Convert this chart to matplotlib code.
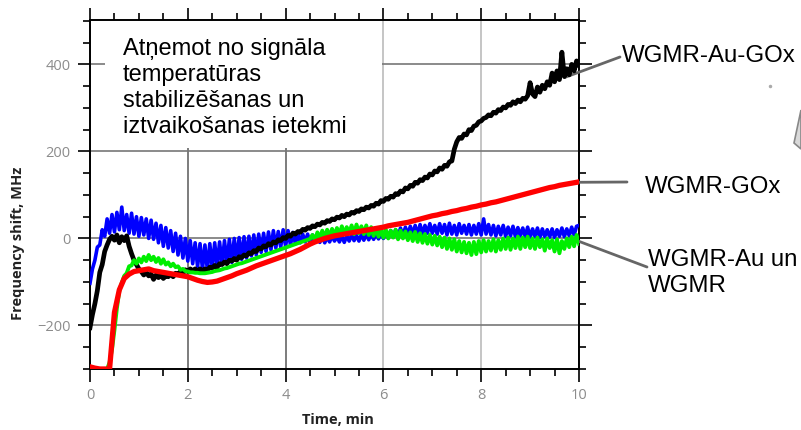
import numpy as np
import matplotlib
matplotlib.use("Agg")
import matplotlib.pyplot as plt
from matplotlib.patches import Rectangle, Polygon
from matplotlib.ticker import MultipleLocator

# ---------------- data ----------------
black_au_gox = [
    -205, -175, -150, -120, -78, -60, -30, -15, -2, 5,
    -4, 8, -10, 4, -5, 6, -18, -35, -50, -60,
    -70, -76, -84, -78, -86, -82, -94, -84, -90, -84,
    -92, -86, -88, -82, -88, -80, -82, -76, -80, -72,
    -76, -70, -74, -70, -76, -70, -74, -70, -74, -66,
    -68, -62, -66, -58, -60, -54, -58, -50, -52, -46,
    -50, -42, -44, -38, -40, -33, -35, -28, -30, -22,
    -24, -17, -19, -12, -15, -8, -10, -3, -5, 2,
    0, 7, 5, 12, 10, 16, 14, 21, 19, 25,
    23, 29, 27, 33, 31, 37, 35, 41, 39, 45,
    43, 49, 47, 53, 50, 56, 54, 60, 58, 64,
    62, 68, 66, 72, 70, 76, 74, 81, 79, 87,
    85, 92, 90, 97, 95, 103, 101, 109, 107, 116,
    114, 122, 120, 129, 127, 135, 133, 141, 139, 148,
    146, 155, 153, 162, 159, 168, 166, 176, 178, 205,
    222, 232, 230, 240, 238, 250, 248, 258, 260, 268,
    270, 276, 278, 284, 282, 290, 288, 296, 294, 302,
    300, 308, 306, 314, 310, 318, 314, 322, 320, 328,
    358, 332, 326, 348, 336, 352, 344, 360, 352, 380,
    360, 385, 365, 428, 372, 390, 376, 400, 385, 408,
    398,
]

blue_wgmr = [
    -103, -70, -50, -20, -15, 20, 5, 45, 12, 55,
    15, 60, 20, 72, 18, 55, 12, 58, 10, 50,
    5, 48, 8, 45, 0, 42, -2, 35, -10, 30,
    -18, 25, -22, 18, -30, 12, -38, 5, -45, 0,
    -52, -5, -58, -10, -65, -12, -70, -15, -72, -12,
    -68, -10, -65, -8, -60, -5, -58, -2, -55, 0,
    -50, 2, -48, 4, -45, 5, -40, 8, -38, 10,
    -32, 12, -30, 15, -26, 18, -22, 16, -20, 20,
    -18, 18, -15, 14, -12, 12, -10, 10, -8, 10,
    -10, 8, -8, 6, -9, 5, -10, 3, -8, 6,
    -6, 4, -8, 5, -9, 6, -6, 8, -5, 7,
    -6, 9, -4, 10, -3, 11, -2, 12, -1, 14,
    0, 15, 2, 18, 4, 20, 5, 24, 6, 26,
    8, 28, 10, 30, 8, 32, 10, 30, 12, 34,
    12, 30, 10, 34, 12, 32, 8, 35, 10, 30,
    8, 34, 12, 30, 10, 32, 8, 30, 10, 34,
    8, 45, 10, 32, 8, 30, 6, 28, 8, 30,
    5, 26, 6, 28, 4, 25, 6, 24, 4, 26,
    3, 22, 4, 24, 2, 22, 4, 20, 3, 22,
    2, 20, 5, 24, 4, 22, 6, 26, 8, 28,
    30,
]

green_au = [
    -300, -285, -255, -210, -160, -120, -102, -86, -80, -64,
    -62, -50, -58, -46, -55, -42, -52, -38, -50, -42,
    -54, -45, -58, -48, -60, -55, -64, -58, -66, -64,
    -72, -70, -75, -76, -78, -78, -79, -79, -80, -80,
    -80, -79, -78, -77, -75, -74, -73, -71, -69, -68,
    -66, -64, -62, -60, -58, -57, -55, -53, -51, -49,
    -47, -45, -43, -41, -39, -37, -35, -33, -31, -29,
    -27, -25, -23, -21, -19, -17, -15, -13, -11, -9,
    -7, -5, -3, -1, 8, -4, 14, 0, 18, 2,
    20, 4, 22, 6, 24, 8, 28, 10, 26, 12,
    30, 10, 32, 12, 28, 10, 30, 8, 26, 6,
    24, 4, 22, 2, 20, 0, 18, 2, 20, -2,
    18, 0, 16, -4, 14, -6, 15, -8, 12, -10,
    10, -12, 8, -14, 6, -16, 4, -20, 2, -24,
    0, -26, -2, -30, -6, -32, -8, -34, -10, -38,
    -8, -36, -6, -32, -4, -30, -6, -28, -2, -30,
    -4, -26, 0, -24, 2, -26, 0, -22, 4, -24,
    2, -20, 4, -22, 0, -24, 2, -20, -2, -28,
    0, -22, -4, -30, -2, -34, -6, -24, 0, -20,
    4, -18, 8, -12,
]

red_gox = [
    -295, -298, -300, -300, -300, -170, -118, -92, -82, -76,
    -74, -72, -70, -74, -76, -78, -80, -82, -84, -86,
    -88, -92, -96, -99, -101, -100, -98, -94, -90, -86,
    -81, -77, -73, -68, -63, -59, -55, -51, -47, -43,
    -39, -35, -30, -25, -19, -13, -8, -4, 0, 3,
    6, 8, 10, 12, 14, 16, 18, 20, 22, 24,
    26, 29, 31, 33, 35, 37, 40, 43, 46, 49,
    52, 54, 57, 59, 62, 64, 67, 69, 72, 74,
    77, 79, 82, 84, 87, 90, 93, 96, 99, 102,
    105, 108, 111, 114, 117, 119, 122, 124, 126, 128,
    130,
]

# sampling times (min) for each recorded series
t_black = [round(i * 0.05, 2) for i in range(len(black_au_gox))]
t_blue = [round(i * 0.05, 2) for i in range(len(blue_wgmr))]
t_green = [round(0.35 + i * 0.05, 2) for i in range(len(green_au))]
t_red = [round(i * 0.1, 1) for i in range(len(red_gox))]

x_ticks = [0, 2, 4, 6, 8, 10]
y_ticks = [-200, 0, 200, 400]
x_grid_colors = ["#666666", "#666666", "#666666", "#bbbbbb", "#bbbbbb", "#666666"]

box_text = "Atņemot no signāla\ntemperatūras\nstabilizēšanas un\niztvaikošanas ietekmi"
label_au_gox = "WGMR-Au-GOx"
label_gox = "WGMR-GOx"
label_au = "WGMR-Au un\nWGMR"

# ---------------- figure ----------------
W, H = 801, 430
fig = plt.figure(figsize=(W / 100, H / 100), dpi=100)
ax = fig.add_axes([90 / W, 1 - 369 / H, (579 - 90) / W, (369 - 20) / H])

ax.set_xlim(0, 10)
ax.set_ylim(-300, 502)

ax.plot(t_blue, blue_wgmr, color="#0000ff", lw=2.6, zorder=3)
ax.plot(t_black, black_au_gox, color="#000000", lw=3.4, zorder=4)
ax.plot(t_green, green_au, color="#00ee00", lw=2.8, zorder=5)
ax.plot(t_red, red_gox, color="#ff0000", lw=3.8, zorder=6)

ax.set_xticks(x_ticks)
ax.set_yticks(y_ticks)
ax.xaxis.set_minor_locator(MultipleLocator(0.5))
ax.yaxis.set_minor_locator(MultipleLocator(50))
ax.tick_params(which="both", direction="out", top=True, right=True,
               labeltop=False, labelright=False, width=1.2, color="black")
ax.tick_params(which="major", length=9, labelsize=10.5, labelcolor="#8c8c8c", pad=5)
ax.tick_params(which="minor", length=5)
for lab in ax.get_xticklabels() + ax.get_yticklabels():
    lab.set_fontfamily("Open Sans")

ax.grid(True, which="major", color="#777777", lw=1.2)
for gl, c in zip(ax.xaxis.get_gridlines(), x_grid_colors):
    gl.set_color(c)
for s in ax.spines.values():
    s.set_linewidth(1.4)

# white text box covering grid
ax.add_patch(Rectangle((0.31, 207), 5.66, 300, facecolor="white", edgecolor="none", zorder=1.8))
fig.text(123 / W, 1 - 38 / H, box_text, family="Liberation Sans", fontsize=17,
         va="top", ha="left", linespacing=1.23, color="black")

# axis labels
fig.text(18 / W, 1 - 243 / H, "Frequency shift, MHz", rotation=90, family="Open Sans",
         fontweight="bold", fontsize=10.5, ha="center", va="center", color="#222222")
fig.text(338 / W, 1 - 420 / H, "Time, min", family="Open Sans", fontweight="bold",
         fontsize=10.5, ha="center", va="center", color="#222222")

# annotations
lp = dict(arrowstyle="-", color="#666666", lw=2, shrinkA=0, shrinkB=0)
ax.annotate("", xy=(9.71, 370), xytext=(620, H - 57), textcoords="figure pixels",
            arrowprops=lp, annotation_clip=False)
ax.annotate("", xy=(9.88, 129), xytext=(627, H - 182), textcoords="figure pixels",
            arrowprops=lp, annotation_clip=False)
ax.annotate("", xy=(9.96, -5), xytext=(647, H - 267), textcoords="figure pixels",
            arrowprops=lp, annotation_clip=False)
fig.text(622 / W, 1 - 62 / H, label_au_gox, family="Liberation Sans", fontsize=17.3,
         va="baseline", ha="left")
fig.text(645 / W, 1 - 193 / H, label_gox, family="Liberation Sans", fontsize=17.3,
         va="baseline", ha="left")
fig.text(648 / W, 1 - 292 / H, label_au, family="Liberation Sans", fontsize=17.3,
         va="baseline", ha="left", linespacing=1.22)

# partial gray shape at right edge and small dot
fig.patches.append(Polygon([(801 / W, 1 - 110 / H), (794 / W, 1 - 143 / H), (801 / W, 1 - 149 / H)],
                           closed=True, transform=fig.transFigure, facecolor="#d9d9d9",
                           edgecolor="#888888", lw=1.2))
fig.add_artist(plt.Line2D([770 / W], [1 - 86 / H], marker="o", ms=1.5, color="#aaaaaa",
                          transform=fig.transFigure))

fig.savefig("out.png", dpi=100)
